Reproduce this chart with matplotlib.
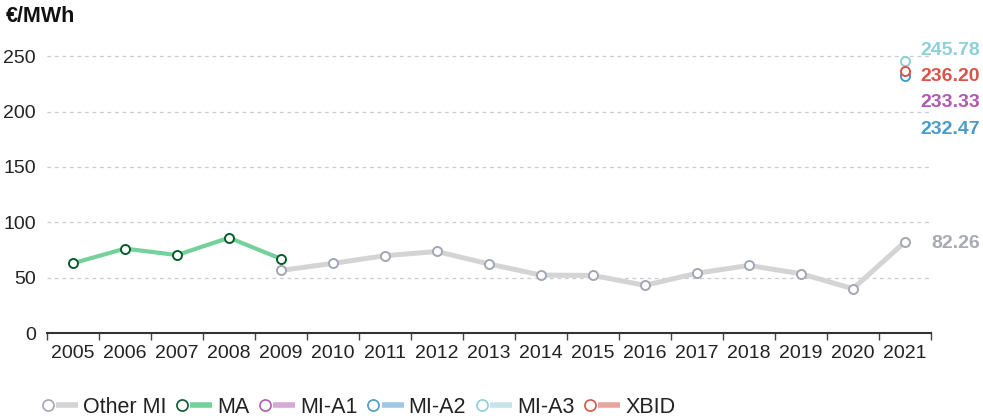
import matplotlib
matplotlib.use("Agg")
import matplotlib.pyplot as plt
from matplotlib.lines import Line2D
from matplotlib.legend_handler import HandlerBase
import matplotlib.transforms as mtransforms
import numpy as np

plt.rcParams['font.family'] = ['Liberation Sans', 'DejaVu Sans']

years = [str(y) for y in range(2005, 2022)]
other_mi_years = [str(y) for y in range(2009, 2022)]
other_mi = [56.5, 62.9, 69.8, 73.6, 62.3, 52.3, 52.0, 43.0, 54.0, 61.0, 53.5, 40.0, 82.26]
ma_years = ['2005', '2006', '2007', '2008', '2009']
ma = [63.0, 76.2, 70.4, 86.0, 67.0]
mi_a1 = 233.33
mi_a2 = 232.47
mi_a3 = 245.78
xbid = 236.20

fig = plt.figure(figsize=(9.83, 4.19), dpi=100)
ax = fig.add_axes([47/983, 1-333/419, (931-47)/983, (333-34)/419])

xi = {y: i for i, y in enumerate(years)}

series = [
    ("Other MI", other_mi_years, other_mi, '#d4d4d4', '#a4a7b3', 3.6),
    ("MA", ma_years, ma, '#74d19a', '#0b5a2c', 3.0),
    ("MI-A1", ['2021'], [mi_a1], '#d8a8d8', '#b05bb0', 3.0),
    ("MI-A2", ['2021'], [mi_a2], '#9ec8e6', '#4a9cc8', 3.0),
    ("MI-A3", ['2021'], [mi_a3], '#c6e5ea', '#8ccfd8', 3.0),
    ("XBID", ['2021'], [xbid], '#e9a49c', '#d9544a', 3.0),
]

handles = []
for name, yrs, vals, lc, mc, lw in series:
    h, = ax.plot([xi[y] for y in yrs], vals, color=lc, lw=lw, marker='o',
                 mfc='white', mec=mc, mew=1.4, ms=6.5, label=name,
                 solid_capstyle='butt', zorder=3)
    handles.append(h)

ax.set_xlim(-0.5, len(years) - 0.5)
ax.set_ylim(0, 270)
ax.set_yticks([0, 50, 100, 150, 200, 250])
ax.set_xticks(range(len(years)))
ax.set_xticklabels(years)
ax.set_xticks(np.arange(-0.5, len(years), 1), minor=True)
ax.tick_params(axis='x', which='major', length=0, pad=9, labelsize=14, colors='#222222')
ax.tick_params(axis='x', which='minor', length=5, width=1, color='#444444')
ax.tick_params(axis='y', length=0, pad=8, labelsize=14, colors='#222222')
ax.grid(axis='y', color='#c9cbd4', lw=0.9, ls=(0, (3, 3)))
ax.set_axisbelow(True)
for s in ['top', 'right', 'left']:
    ax.spines[s].set_visible(False)
ax.spines['bottom'].set_color('#333333')
ax.spines['bottom'].set_linewidth(1.5)
ax.spines['bottom'].set_zorder(5)

fig.text(6/983, 1-17/419, '€/MWh', fontsize=15.5, fontweight='bold', va='center', ha='left', color='#111111')

# value labels on the right
trans = mtransforms.blended_transform_factory(fig.transFigure, ax.transData)
labels = [
    (mi_a3, 255.5, '#8fd0d8'),
    (xbid, 231.5, '#d9544a'),
    (mi_a1, 207.7, '#b05bb0'),
    (mi_a2, 184.2, '#4a9cc8'),
    (other_mi[-1], 80.5, '#a8aab4'),
]
for val, ypos, col in labels:
    ax.text(980/983, ypos, f'{val:.2f}', transform=trans, ha='right', va='center',
            fontsize=14, fontweight='bold', color=col, clip_on=False)


class MarkerLineHandler(HandlerBase):
    def create_artists(self, legend, orig_handle, xdescent, ydescent, width, height, fontsize, trans):
        y = height / 2 - ydescent
        x0 = -xdescent
        line = Line2D([x0 + width * 0.37, x0 + width], [y, y], color=orig_handle.get_color(),
                      lw=4, solid_capstyle='butt', transform=trans)
        mk = Line2D([x0 + width * 0.14], [y], marker='o', mfc='white',
                    mec=orig_handle.get_markeredgecolor(), mew=1.2, ms=8, ls='', transform=trans)
        return [line, mk]


leg = fig.legend(handles=handles, loc='center left', bbox_to_anchor=(43/983, 1-407/419), ncol=6,
                 frameon=False, fontsize=15.5, handler_map={Line2D: MarkerLineHandler()},
                 handlelength=1.63, handletextpad=0.23, columnspacing=0.5, labelcolor='#222222',
                 borderpad=0, borderaxespad=0)

fig.savefig('out.png', dpi=100)
